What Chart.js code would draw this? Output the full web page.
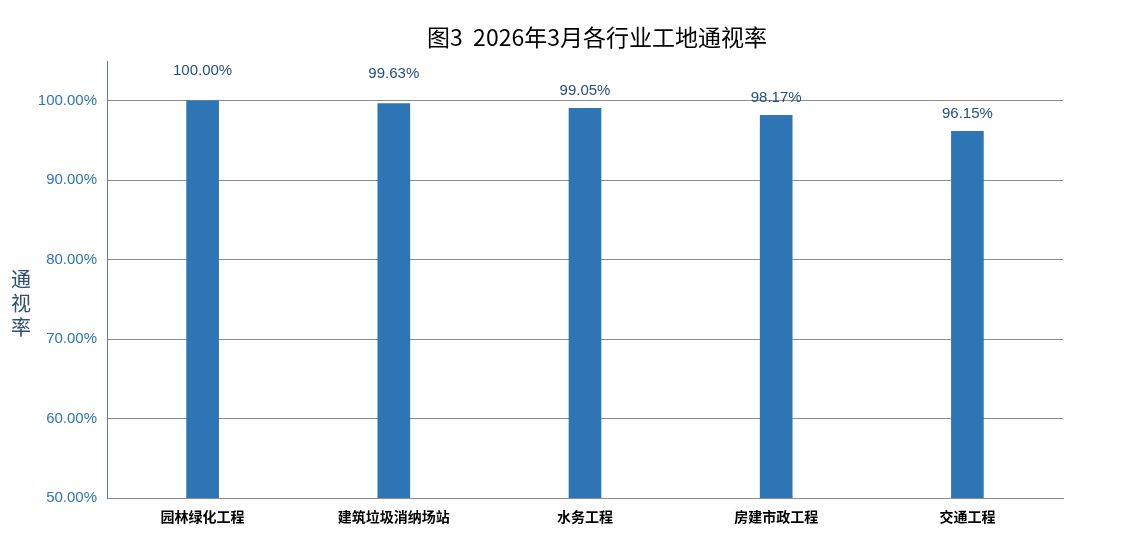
<!DOCTYPE html>
<html lang="zh">
<head>
    <meta charset="UTF-8">
    <title>各行业工地通视率</title>
    <style>
        html, body { margin: 0; padding: 0; background: #fff; }
        .wrap { width: 1128px; height: 541px; }
    </style>
</head>
<body>
    <div class="wrap"><canvas id="rateChart" width="1128" height="541"></canvas></div>

    <script src="https://cdn.jsdelivr.net/npm/chart.js"></script>
    <script>
const categories = ['园林绿化工程', '建筑垃圾消纳场站', '水务工程', '房建市政工程', '交通工程'];
const rates = [100.00, 99.63, 99.05, 98.17, 96.15];
const yTicks = [50, 60, 70, 80, 90, 100];
const chartTitle = '图3  2026年3月各行业工地通视率';
const yTitle = ['通', '视', '率'];

// 标题、纵轴名称、柱顶数值
const extrasPlugin = {
    id: 'extras',
    afterDraw(chart) {
        const ctx = chart.ctx;
        ctx.save();
        ctx.fillStyle = '#000';
        ctx.font = '23px "Noto Sans CJK SC"';
        ctx.textAlign = 'center';
        ctx.textBaseline = 'middle';
        ctx.fillText(chartTitle, 597, 37);

        ctx.fillStyle = '#2f4f75';
        ctx.font = '20px "Noto Sans CJK SC"';
        yTitle.forEach((ch, i) => ctx.fillText(ch, 21, 279 + i * 24));

        const meta = chart.getDatasetMeta(0);
        ctx.fillStyle = '#24507f';
        ctx.font = '15px "Liberation Sans", sans-serif';
        meta.data.forEach((bar, i) => {
            const lift = rates[i] > 99.5 ? 30 : 17;
            ctx.fillText(rates[i].toFixed(2) + '%', bar.x, bar.y - lift);
        });
        ctx.restore();
    }
};

const ctx = document.getElementById('rateChart').getContext('2d');
new Chart(ctx, {
    type: 'bar',
    data: {
        labels: categories,
        datasets: [{
            data: rates,
            backgroundColor: '#2e75b6',
            barThickness: 32
        }]
    },
    options: {
        responsive: false,
        animation: false,
        layout: { padding: { top: 61, right: 65, left: 0, bottom: 0 } },
        plugins: {
            legend: { display: false },
            tooltip: { enabled: false }
        },
        scales: {
            x: {
                grid: { display: false, drawTicks: false },
                border: { color: '#8c8c8c', width: 1 },
                ticks: {
                    color: '#000',
                    padding: 10,
                    font: { family: '"Noto Sans CJK SC"', size: 14, weight: 'bold' }
                },
                afterFit(scale) { scale.height = 43; }
            },
            y: {
                min: 50,
                max: 105,
                afterBuildTicks(scale) { scale.ticks = yTicks.map(v => ({ value: v })); },
                grid: { color: '#8c8c8c', drawTicks: false },
                border: { color: '#4f7fb8', width: 1 },
                ticks: {
                    color: '#2e75b6',
                    padding: 10,
                    font: { family: '"Liberation Sans", sans-serif', size: 15 },
                    callback: v => v.toFixed(2) + '%'
                },
                afterFit(scale) { scale.width = 107; }
            }
        }
    },
    plugins: [extrasPlugin]
});
    </script>
</body>
</html>
